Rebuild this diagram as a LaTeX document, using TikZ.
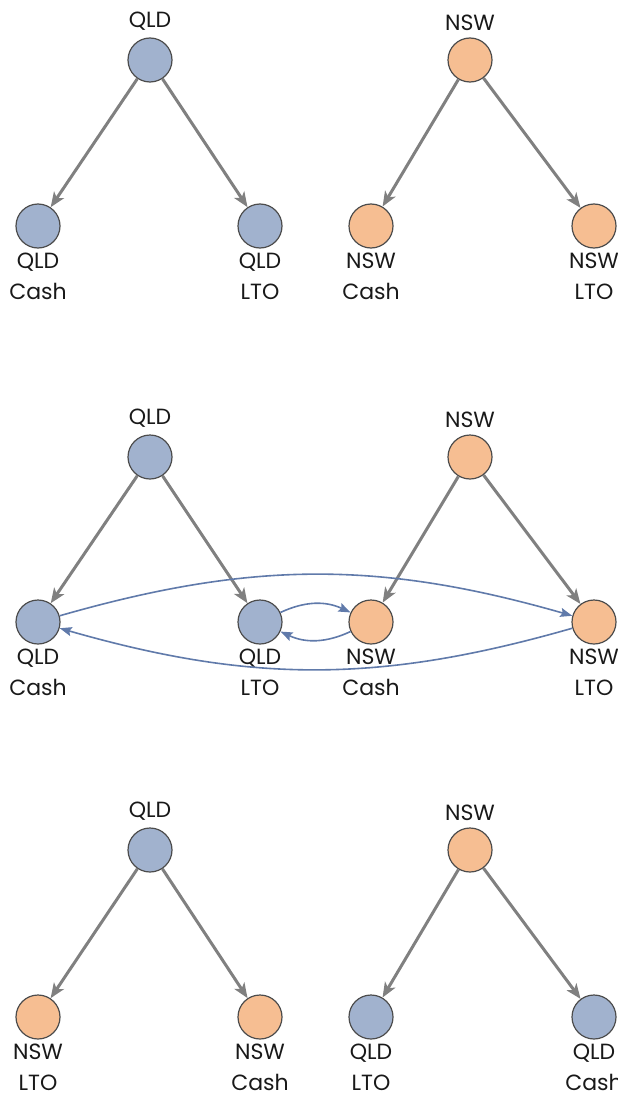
\documentclass[tikz,border=0pt]{standalone}
\usepackage{fontspec}
\setmainfont{Poppins}
\usetikzlibrary{arrows.meta}
\definecolor{qldblue}{RGB}{161,178,206}
\definecolor{nsworange}{RGB}{246,190,146}
\definecolor{edgegray}{RGB}{128,128,128}
\definecolor{flowblue}{RGB}{96,122,170}
\newcommand\lblfont{\fontsize{22}{31}\selectfont\color{black!90}}

\begin{document}
\begin{tikzpicture}[x=1pt, y=-1pt,
  state/.style={circle, draw=black!70, line width=1.2pt, minimum size=44pt, inner sep=0pt},
  qld/.style={state, fill=qldblue},
  nsw/.style={state, fill=nsworange},
  toplbl/.style={label={[label distance=3pt, font=\lblfont]above:#1}},
  botlbl/.style={label={[label distance=1pt, font=\lblfont, align=center]below:{#1}}},
  tree/.style={-{Stealth[length=15pt, width=12pt, inset=4pt]}, line width=3pt, edgegray},
  flow/.style={-{Stealth[length=12pt, width=9pt, inset=2pt]}, line width=1.6pt, flowblue}]
  \useasboundingbox (0,0) rectangle (618,1097);

  % two separate markets
  \node[qld, toplbl=QLD] (q1) at (150,60) {};
  \node[qld, botlbl={QLD\\Cash}] (q1c) at (38,226) {};
  \node[qld, botlbl={QLD\\LTO}] (q1l) at (260,226) {};
  \node[nsw, toplbl=NSW] (n1) at (470,60) {};
  \node[nsw, botlbl={NSW\\Cash}] (n1c) at (371,226) {};
  \node[nsw, botlbl={NSW\\LTO}] (n1l) at (594,226) {};
  \draw[tree] (q1) -- (q1c);
  \draw[tree] (q1) -- (q1l);
  \draw[tree] (n1) -- (n1c);
  \draw[tree] (n1) -- (n1l);

  % linked markets
  \node[qld, toplbl=QLD] (q2) at (150,457) {};
  \node[qld, botlbl={QLD\\Cash}] (q2c) at (38,622) {};
  \node[qld, botlbl={QLD\\LTO}] (q2l) at (260,622) {};
  \node[nsw, toplbl=NSW] (n2) at (470,457) {};
  \node[nsw, botlbl={NSW\\Cash}] (n2c) at (371,622) {};
  \node[nsw, botlbl={NSW\\LTO}] (n2l) at (594,622) {};
  \draw[tree] (q2) -- (q2c);
  \draw[tree] (q2) -- (q2l);
  \draw[tree] (n2) -- (n2c);
  \draw[tree] (n2) -- (n2l);
  \draw[flow] (q2c) to[bend left=16] (n2l);
  \draw[flow] (n2l) to[bend left=16] (q2c);
  \draw[flow] (q2l) to[bend left=25] (n2c);
  \draw[flow] (n2c) to[bend left=25] (q2l);

  % swapped children
  \node[qld, toplbl=QLD] (q3) at (150,850) {};
  \node[nsw, botlbl={NSW\\LTO}] (q3l) at (38,1017) {};
  \node[nsw, botlbl={NSW\\Cash}] (q3c) at (260,1017) {};
  \node[nsw, toplbl=NSW] (n3) at (470,850) {};
  \node[qld, botlbl={QLD\\LTO}] (n3l) at (371,1017) {};
  \node[qld, botlbl={QLD\\Cash}] (n3c) at (594,1017) {};
  \draw[tree] (q3) -- (q3l);
  \draw[tree] (q3) -- (q3c);
  \draw[tree] (n3) -- (n3l);
  \draw[tree] (n3) -- (n3c);
\end{tikzpicture}
\end{document}
